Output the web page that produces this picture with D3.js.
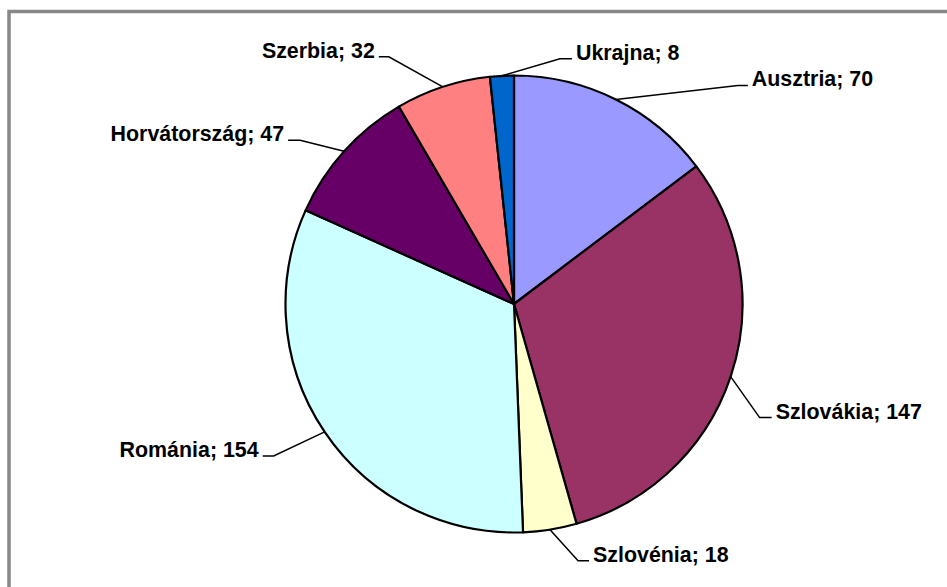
<!DOCTYPE html>
<html>
<head>
<meta charset="utf-8">
<script src="https://cdn.jsdelivr.net/npm/d3@7"></script>
<style>
  html, body { margin: 0; padding: 0; background: #fff; }
  svg { display: block; }
  .lbl { font-family: "Liberation Sans", Arial, sans-serif; font-weight: bold; font-size: 21.4px; fill: #000; }
</style>
</head>
<body>
<svg id="chart" width="947" height="587"></svg>
<script>
// Countries, clockwise from 12 o'clock
const countries = ["Ausztria", "Szlovákia", "Szlovénia", "Románia", "Horvátország", "Szerbia", "Ukrajna"];
const counts = [70, 147, 18, 154, 47, 32, 8];
const colors = ["#9999FF", "#993366", "#FFFFCC", "#CCFFFF", "#660066", "#FF8080", "#0066CC"];

// Leader elbow offset from the slice's rim point, and length of the horizontal tail
const elbowOffset = [[122, -14], [29, 41], [28, 31], [-51, 24], [-44, -11], [-54, -30], [58, -17]];
const tailLength = [10, 12, 11, -11, -12, -10, 12];

const svg = d3.select("#chart");
const W = 947, H = 587;
const cx = 514, cy = 304, R = 228.5;

svg.append("rect").attr("width", W).attr("height", H).attr("fill", "#fff");
// chart frame
svg.append("rect")
  .attr("x", 9).attr("y", 11.5)
  .attr("width", 1200).attr("height", 1200)
  .attr("fill", "none").attr("stroke", "#888").attr("stroke-width", 3.5);

const data = countries.map((c, i) => ({ name: c, value: counts[i], color: colors[i], i }));

const pie = d3.pie().value(d => d.value).sort(null);
const arcs = pie(data);
const arc = d3.arc().innerRadius(0).outerRadius(R);

const g = svg.append("g").attr("transform", `translate(${cx},${cy})`);

g.selectAll("path.slice")
  .data(arcs)
  .join("path")
  .attr("class", "slice")
  .attr("d", arc)
  .attr("fill", d => d.data.color)
  .attr("stroke", "#000")
  .attr("stroke-width", 2.2)
  .attr("stroke-linejoin", "round");

// Leader lines and labels
arcs.forEach(a => {
  const i = a.data.i;
  const mid = (a.startAngle + a.endAngle) / 2;
  const rim = [R * Math.sin(mid), -R * Math.cos(mid)];
  const elbow = [rim[0] + elbowOffset[i][0], rim[1] + elbowOffset[i][1]];
  const tail = [elbow[0] + tailLength[i], elbow[1]];
  g.append("path")
    .attr("d", d3.line()([rim, elbow, tail]))
    .attr("fill", "none")
    .attr("stroke", "#000")
    .attr("stroke-width", 1.5);
  const right = tailLength[i] > 0;
  g.append("text")
    .attr("class", "lbl")
    .attr("x", tail[0] + (right ? 4 : -4))
    .attr("y", tail[1] + 1)
    .attr("text-anchor", right ? "start" : "end")
    .text(`${a.data.name}; ${a.data.value}`);
});
</script>
</body>
</html>
